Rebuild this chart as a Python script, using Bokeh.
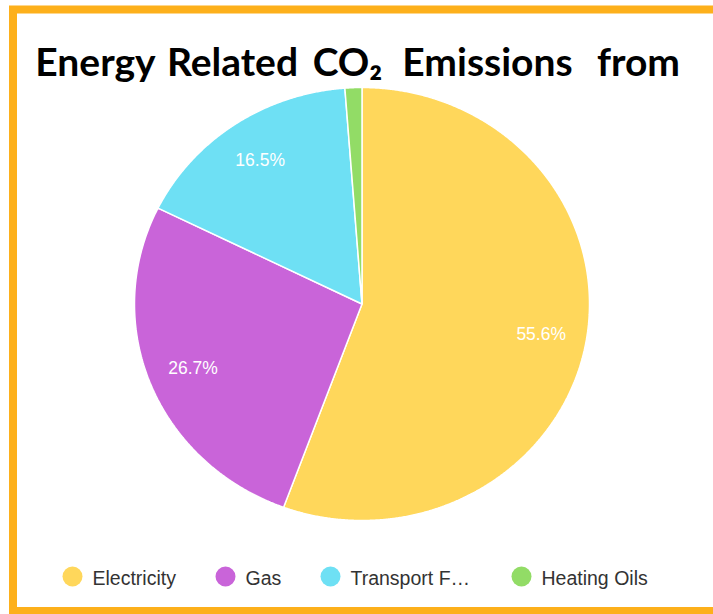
import numpy as np
from bokeh.plotting import figure
from bokeh.models import Range1d
from bokeh.core.properties import value
from bokeh.embed import file_html
from bokeh.resources import INLINE

# ---- data ----
categories = ["Electricity", "Gas", "Transport Fuels", "Heating Oils"]
legend_labels = ["Electricity", "Gas", "Transport F\u2026", "Heating Oils"]
shares = [55.6, 26.7, 16.5, 1.2]
colors = ["#FFD75B", "#C964D9", "#6EE0F4", "#92DC66"]
title_text = "Energy Related CO\u2082 Emissions from"

# ---- layout ----
W, H = 713, 614
cx, cy = 361.5, 303.5
rx, ry = 227.5, 216.5

p = figure(width=W, height=H, output_backend="svg", toolbar_location=None,
           x_range=Range1d(0, W), y_range=Range1d(H, 0), min_border=0)
p.axis.visible = False
p.grid.visible = False
p.outline_line_color = None
p.background_fill_color = "white"
p.border_fill_color = "white"

# orange frame
p.quad(left=[12.5], right=[800], top=[9], bottom=[610.5], fill_color=None,
       line_color="#FDB01B", line_width=8, line_join="miter")

# pie slices (start at 12 o'clock, clockwise)
total = sum(shares)
fr = np.cumsum([0] + list(shares)) / total
xs, ys, lx, ly, ltxt = [], [], [], [], []
for i, s in enumerate(shares):
    a0, a1 = fr[i] * 2 * np.pi, fr[i + 1] * 2 * np.pi
    t = np.linspace(a0, a1, max(3, int(200 * (a1 - a0))))
    xs.append([cx] + list(cx + rx * np.sin(t)) + [cx])
    ys.append([cy] + list(cy - ry * np.cos(t)) + [cy])
    if s / total > 0.05:
        am = (a0 + a1) / 2
        lx.append(cx + 0.8 * rx * np.sin(am))
        ly.append(cy - 0.8 * ry * np.cos(am))
        ltxt.append(f"{s:.1f}%")

p.patches(xs=xs, ys=ys, fill_color=colors, line_color="white", line_width=1.5)
p.text(x=lx, y=ly, text=ltxt, text_color="white", text_font=value("Liberation Sans"),
       text_font_size="17.5px", text_align="center", text_baseline="middle")

# title, words spread across width (justified)
words = title_text.split(" ")
word_centers = [95, 232, 347, 487, 638]
p.text(x=word_centers, y=[60] * len(words), text=words, text_color="black",
       text_font=value("Lato"), text_font_style="bold", text_font_size="39px",
       text_align="center", text_baseline="middle")

# legend
leg_x = [72, 225, 330, 521]
p.scatter(x=leg_x, y=[576] * 4, size=20, marker="circle", fill_color=colors, line_color=None)
p.text(x=[x + 20 for x in leg_x], y=[577] * 4, text=legend_labels, text_color="#333333",
       text_font=value("Liberation Sans"), text_font_size="19.5px",
       text_align="left", text_baseline="middle")

open("out.html", "w").write(file_html(p, INLINE))
